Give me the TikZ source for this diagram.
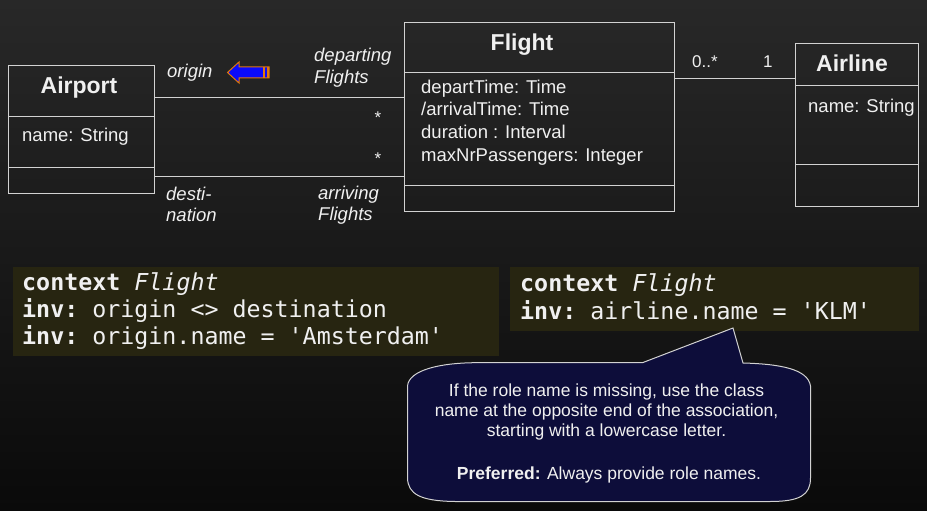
\documentclass[tikz,border=0pt]{standalone}
\usepackage{fontspec}
\setmainfont{Liberation Sans}
\setmonofont{DejaVu Sans Mono}
\definecolor{bgtop}{RGB}{40,40,40}
\definecolor{bgbot}{RGB}{10,10,10}
\definecolor{linec}{RGB}{210,210,210}
\definecolor{fgc}{RGB}{240,240,240}
\definecolor{codebg}{RGB}{39,37,17}
\definecolor{callbg}{RGB}{13,13,58}
\definecolor{arrfill}{RGB}{10,10,250}
\definecolor{arrline}{RGB}{225,120,10}
\tikzset{
  cls/.style={draw=linec, line width=1pt, anchor=north west, inner sep=0pt},
  divider/.style={draw=linec, line width=1pt},
  assoc/.style={draw=linec, line width=1pt},
  ttl/.style={font=\fontsize{23}{27}\selectfont\bfseries, text=fgc, inner sep=0pt, anchor=base},
  attr/.style={font=\fontsize{18.5}{22}\selectfont, text=fgc, inner sep=0pt, anchor=base west},
  role/.style={font=\fontsize{18.5}{22}\selectfont\itshape, text=fgc, inner sep=0pt, anchor=base west},
  mult/.style={font=\fontsize{17}{20}\selectfont, text=fgc, inner sep=0pt, anchor=base west},
  codebox/.style={fill=codebg, draw=none, anchor=north west, inner sep=0pt},
  code/.style={font=\fontsize{23.3}{27}\selectfont\ttfamily, text=fgc, inner sep=0pt, anchor=base west},
  calltxt/.style={font=\fontsize{17.5}{20}\selectfont, text=fgc, inner sep=0pt, anchor=base}
}
\begin{document}
\begin{tikzpicture}[x=1pt,y=-1pt]
\shade[top color=bgtop,bottom color=bgbot] (0,0) rectangle (927,511);
\useasboundingbox (0,0) rectangle (927,511);

% Airport
\node[cls, minimum width=146pt, minimum height=128pt] (airport) at (8,65) {};
\draw[divider] (airport.west |- 0,116) -- (airport.east |- 0,116);
\draw[divider] (airport.west |- 0,167) -- (airport.east |- 0,167);
\node[ttl] (airportT) at (79,93) {Airport};
\node[attr] (airportA) at (22,141) {name: String};

% Flight
\node[cls, minimum width=270pt, minimum height=189pt] (flight) at (404,22) {};
\draw[divider] (flight.west |- 0,73) -- (flight.east |- 0,73);
\draw[divider] (flight.west |- 0,185) -- (flight.east |- 0,185);
\node[ttl] (flightT) at (522,50.5) {Flight};
\node[attr] (fa1) at (421,93) {departTime: Time};
\node[attr] (fa2) at (421,116) {/arrivalTime: Time};
\node[attr] (fa3) at (421,139) {duration : Interval};
\node[attr] (fa4) at (421,161.5) {maxNrPassengers: Integer};

% Airline
\node[cls, minimum width=123pt, minimum height=163pt] (airline) at (795,43) {};
\draw[divider] (airline.west |- 0,86) -- (airline.east |- 0,86);
\draw[divider] (airline.west |- 0,164) -- (airline.east |- 0,164);
\node[ttl] (airlineT) at (852,71.5) {Airline};
\node[attr] (airlineA) at (808,113) {name: String};

% associations
\draw[assoc] (airport.east |- 0,98) -- (flight.west |- 0,98);
\draw[assoc] (airport.east |- 0,176) -- (flight.west |- 0,176);
\draw[assoc] (flight.east |- 0,79) -- (airline.west |- 0,79);

\node[mult] (m1) at (692,67) {0..*};
\node[mult] (m2) at (763,67) {1};
\node[mult, anchor=center] (s1) at (378,118) {*};
\node[mult, anchor=center] (s2) at (378,159) {*};

\node[role] (r1) at (167,77.5) {origin};
\node[role] (r2) at (314,61.5) {departing};
\node[role] (r3) at (314,84) {Flights};
\node[role] (r4) at (166,200) {desti-};
\node[role] (r5) at (166,221.5) {nation};
\node[role] (r6) at (318,199) {arriving};
\node[role] (r7) at (318,220.5) {Flights};

% navigation arrow
\draw[fill=arrfill, draw=arrline, line width=1pt, line join=miter]
  (227.5,72.5) -- (239,62) -- (239,67) -- (269,67) -- (269,78) -- (239,78) -- (239,83) -- cycle;
\fill[arrline] (262.5,67) rectangle (265,78);
\fill[arrline] (267,67) rectangle (269,78);

% OCL boxes
\node[codebox, minimum width=486pt, minimum height=89pt] (ocl1) at (13,267) {};
\node[code] (c1) at (22,290) {\textbf{context} \textit{Flight}};
\node[code] (c2) at (22,317.5) {\textbf{inv:} origin <> destination};
\node[code] (c3) at (22,344.5) {\textbf{inv:} origin.name = 'Amsterdam'};

\node[codebox, minimum width=409pt, minimum height=64pt] (ocl2) at (510,267) {};
\node[code] (c4) at (520,291) {\textbf{context} \textit{Flight}};
\node[code] (c5) at (520,319) {\textbf{inv:} airline.name = 'KLM'};

% callout
\coordinate (tip) at (733,328);
\draw[fill=callbg, draw=linec, line width=1pt]
  (643,362.5) -- (tip) -- (743,363)
  .. controls (780,364) and (808,369) .. (810.5,386) -- (810.5,478)
  .. controls (810.5,495) and (800,501.5) .. (770,501.5) -- (455,501.5)
  .. controls (420,501) and (408,494) .. (407.5,478) -- (407.5,386)
  .. controls (409,370) and (440,363) .. (475,362.7) -- cycle;
\node[calltxt] (t1) at (606.5,396.5) {If the role name is missing, use the class};
\node[calltxt] (t2) at (606.5,416.5) {name at the opposite end of the association,};
\node[calltxt] (t3) at (606.5,436) {starting with a lowercase letter.};
\node[calltxt] (t4) at (609,479.5) {\textbf{Preferred:} Always provide role names.};
\end{tikzpicture}
\end{document}
